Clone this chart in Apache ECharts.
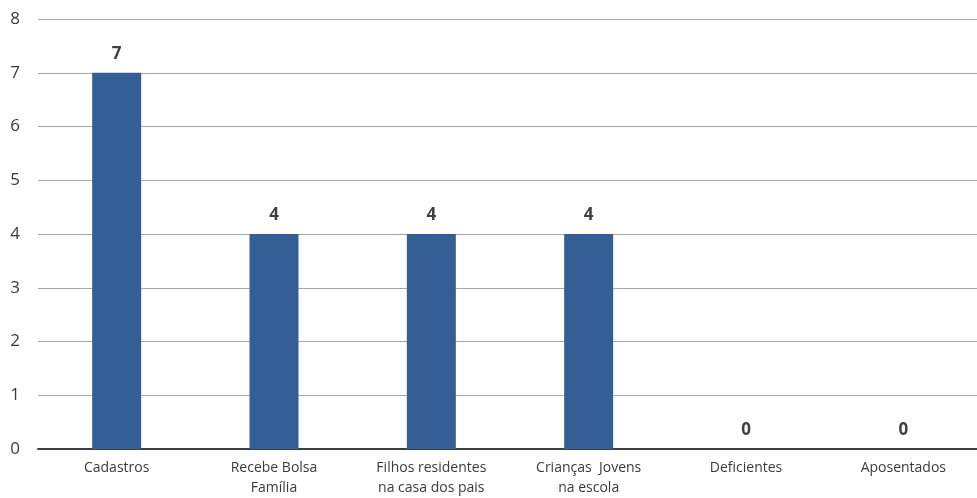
<!DOCTYPE html>
<html><head><meta charset="utf-8">
<script src="https://cdn.jsdelivr.net/npm/echarts@6/dist/echarts.min.js"></script>
<style>html,body{margin:0;padding:0;background:#fff;overflow:hidden;width:977px;height:498px}#c{width:982px;height:498px}</style>
</head><body><div id="c"></div>
<script>
const categories = ['Cadastros', 'Recebe Bolsa\nFamília', 'Filhos residentes\nna casa dos pais', 'Crianças  Jovens\nna escola', 'Deficientes', 'Aposentados'];
const values = [7, 4, 4, 4, 0, 0];
const yTicks = [0, 1, 2, 3, 4, 5, 6, 7, 8];

const chart = echarts.init(document.getElementById('c'), null, {renderer: 'canvas'});
chart.setOption({
  animation: false,
  textStyle: {fontFamily: 'Open Sans'},
  grid: {left: 38, right: 0, top: 19, bottom: 47, containLabel: false},
  xAxis: {
    type: 'category', data: categories,
    axisLine: {show: true, lineStyle: {color: '#404040', width: 2}},
    axisTick: {show: false},
    axisLabel: {color: '#3a3a3a', fontSize: 14, lineHeight: 20, margin: 9, interval: 0}
  },
  yAxis: {
    type: 'value', min: yTicks[0], max: yTicks[yTicks.length - 1], interval: 1,
    axisLine: {show: false}, axisTick: {show: false},
    axisLabel: {color: '#3a3a3a', fontSize: 17, margin: 18},
    splitLine: {lineStyle: {color: '#a6a6a6', width: 1}}
  },
  series: [{
    type: 'bar', data: values, barWidth: 49,
    itemStyle: {color: '#335f94'},
    label: {show: true, position: 'top', distance: 10, fontSize: 17, fontWeight: 'bold', color: '#404040'}
  }]
});
</script></body></html>
